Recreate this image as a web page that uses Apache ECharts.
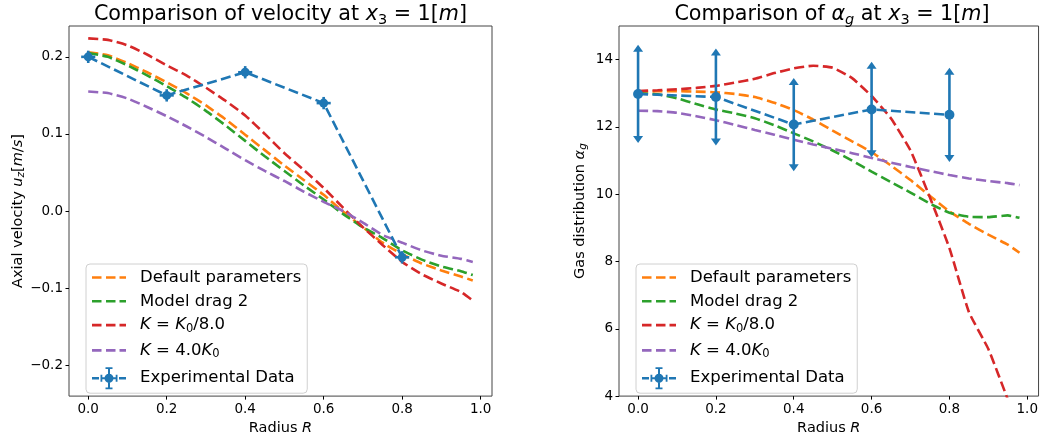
<!DOCTYPE html>
<html><head><meta charset="utf-8">
<script src="https://cdn.jsdelivr.net/npm/echarts@6/dist/echarts.min.js"></script>
<style>html,body{margin:0;padding:0;background:#fff}#c{width:1041px;height:441px}</style>
</head><body><div id="c"></div>
<script>
// ---------- data ----------
const R = [0,0.05,0.1,0.15,0.2,0.25,0.3,0.35,0.4,0.45,0.5,0.55,0.6,0.65,0.7,0.75,0.8,0.85,0.9,0.95,0.98];

const velDefault = [0.206,0.202,0.192,0.180,0.167,0.153,0.137,0.119,0.099,0.079,0.059,0.040,0.021,-0.001,-0.021,-0.041,-0.056,-0.068,-0.077,-0.085,-0.090];
const velDrag2   = [0.205,0.200,0.189,0.176,0.162,0.147,0.130,0.111,0.091,0.071,0.052,0.033,0.015,-0.004,-0.021,-0.035,-0.051,-0.063,-0.072,-0.078,-0.083];
const velKdiv8   = [0.224,0.222,0.215,0.203,0.189,0.176,0.160,0.143,0.124,0.100,0.075,0.053,0.030,0.004,-0.021,-0.044,-0.066,-0.082,-0.094,-0.105,-0.116];
const velKx4     = [0.155,0.153,0.146,0.135,0.123,0.110,0.096,0.081,0.066,0.052,0.039,0.025,0.012,0.000,-0.015,-0.031,-0.041,-0.051,-0.058,-0.062,-0.066];

const alphaDefault = [13.05,13.06,13.06,13.05,13.03,12.98,12.89,12.72,12.50,12.22,11.89,11.57,11.25,10.85,10.42,9.95,9.49,9.12,8.80,8.50,8.26];
const alphaDrag2   = [13.00,12.97,12.85,12.68,12.52,12.40,12.26,12.05,11.81,11.57,11.30,11.00,10.67,10.36,10.05,9.72,9.45,9.33,9.32,9.37,9.30];
const alphaKdiv8   = [13.07,13.09,13.12,13.16,13.22,13.32,13.43,13.60,13.74,13.82,13.76,13.45,12.92,12.25,11.30,9.90,8.40,6.50,5.40,3.90,3.00];
const alphaKx4     = [12.48,12.47,12.42,12.32,12.20,12.06,11.91,11.77,11.62,11.48,11.35,11.22,11.08,10.94,10.81,10.69,10.57,10.47,10.39,10.33,10.27];

const expR        = [0,0.2,0.4,0.6,0.8];
const expVel      = [0.200,0.150,0.180,0.140,-0.060];
const expVelErrY  = [0.008,0.008,0.008,0.008,0.008];
const expVelErrX  = [0.018,0.018,0.018,0.018,0.018];
const expAlpha    = [12.98,12.89,12.07,12.52,12.36];
const expAlphaErr = [1.46,1.44,1.385,1.42,1.40];

const xTicks     = [0,0.2,0.4,0.6,0.8,1.0];
const velTicks   = [-0.2,-0.1,0,0.1,0.2];
const alphaTicks = [4,6,8,10,12,14];

const names = ['Default parameters','Model drag 2','K=K0/8.0','K=4.0K0','Experimental Data'];
const colors = {blue:'#1f77b4', orange:'#ff7f0e', green:'#2ca02c', red:'#d62728', purple:'#9467bd'};

// ---------- helpers ----------
const FF = 'DejaVu Sans';
function richSet(size, sub){
  const lh = Math.round(size*1.2);
  const slh = Math.round(sub*0.8);
  return {
    n:{fontFamily:FF,fontSize:size,color:'#000',lineHeight:lh},
    i:{fontFamily:FF,fontSize:size,fontStyle:'italic',color:'#000',lineHeight:lh},
    s:{fontFamily:FF,fontSize:sub,color:'#000',verticalAlign:'bottom',lineHeight:slh},
    si:{fontFamily:FF,fontSize:sub,fontStyle:'italic',color:'#000',verticalAlign:'bottom',lineHeight:slh}
  };
}
const pairs = (xs, ys) => xs.map((x,i)=>[x, ys[i]]);
const rect = (x,y,w,h) => `M${x} ${y}h${w}v${h}h${-w}Z`;
const dashIcon = 'path://' + rect(0,0,9.5,2.6) + rect(14,0,9.5,2.6) + rect(27.5,0,6.5,2.6);
const expIcon = 'path://' + rect(0,9.7,7,2.6) + rect(27,9.7,7,2.6) + rect(8.5,10,17,2) +
  rect(8.5,7.5,1.8,7) + rect(23.7,7.5,1.8,7) + rect(16,0,2,22) + rect(13.5,0,7,1.8) + rect(13.5,20.2,7,1.8) +
  'M12.5 11a4.5 4.5 0 1 1 9 0a4.5 4.5 0 1 1 -9 0Z';

const legendLabels = {
  'Default parameters':'{n|Default parameters}',
  'Model drag 2':'{n|Model drag 2}',
  'K=K0/8.0':'{i|K}{n| = }{i|K}{s|0}{n|/8.0}',
  'K=4.0K0':'{i|K}{n| = 4.0}{i|K}{s|0}',
  'Experimental Data':'{n|Experimental Data}'
};
function makeLegend(left){
  return {
    orient:'vertical', left:left, top:264,
    itemWidth:34, itemHeight:22, itemGap:6.8,
    padding:[5,6,4,6],
    backgroundColor:'rgba(255,255,255,0.8)', borderColor:'#d0d0d0', borderWidth:1, borderRadius:4,
    symbolKeepAspect:true,
    selectedMode:false,
    data:names.map(n=>({name:n, icon: n==='Experimental Data'? expIcon : dashIcon})),
    formatter:n=>legendLabels[n],
    textStyle:{fontFamily:FF,fontSize:16.5,color:'#000',padding:[0,0,0,9],rich:richSet(16.5,11.5)}
  };
}
const lineStyleDash = c => ({color:c, width:2.6, type:[10,4.4]});
function modelSeries(name, color, ys, gi){
  return {name, type:'line', xAxisIndex:gi, yAxisIndex:gi, data:pairs(R,ys),
    showSymbol:false, symbol:'none', smooth:0.15, lineStyle:lineStyleDash(color), itemStyle:{color}, z:3, animation:false};
}
const fmt1 = v => (Math.abs(v)<1e-9 ? '0.0' : v.toFixed(1)).replace('-','\u2212');

const xAxisBase = gi => ({
  type:'value', gridIndex:gi, min:-0.049, max:1.029,
  name:'{n|Radius }{i|R}', nameLocation:'middle', nameGap:20,
  nameTextStyle:{rich:richSet(14.5,10.5)},
  axisLine:{show:false, onZero:false}, splitLine:{show:false},
  axisTick:{show:true, length:3.5, lineStyle:{color:'#000',width:1}, customValues:xTicks},
  axisLabel:{customValues:xTicks, formatter:fmt1, fontFamily:FF, fontSize:13.5, color:'#000', margin:6}
});

const option = {
  animation:false,
  backgroundColor:'#fff',
  grid:[
    {left:69, top:26, width:423, height:374, show:true, borderColor:'#444', borderWidth:1, backgroundColor:'transparent'},
    {left:619, top:26, width:426, height:374, show:true, borderColor:'#444', borderWidth:1, backgroundColor:'transparent'}
  ],
  xAxis:[xAxisBase(0), xAxisBase(1)],
  yAxis:[
    {type:'value', gridIndex:0, min:-0.24, max:0.24,
     name:'{n|Axial velocity }{i|u}{si|z}{n|[}{i|m}{n|/}{i|s}{n|]}', nameLocation:'middle', nameGap:42, nameRotate:90,
     nameTextStyle:{rich:richSet(14.5,10.5)},
     axisLine:{show:false, onZero:false}, splitLine:{show:false},
     axisTick:{show:true,length:3.5,lineStyle:{color:'#000',width:1},customValues:velTicks},
     axisLabel:{customValues:velTicks, formatter:fmt1, fontFamily:FF, fontSize:13.5, color:'#000', margin:6}},
    {type:'value', gridIndex:1, min:4, max:15,
     name:'{n|Gas distribution }{i|\u03b1}{si|g}', nameLocation:'middle', nameGap:30, nameRotate:90,
     nameTextStyle:{rich:richSet(14.5,10.5)},
     axisLine:{show:false, onZero:false}, splitLine:{show:false},
     axisTick:{show:true,length:3.5,lineStyle:{color:'#000',width:1},customValues:alphaTicks},
     axisLabel:{customValues:alphaTicks, formatter:v=>String(Math.round(v)), fontFamily:FF, fontSize:13.5, color:'#000', margin:6}}
  ],
  legend:[makeLegend(86), makeLegend(636)],
  graphic:[
    {type:'text', x:280.5, y:15, style:{text:'{n|Comparison of velocity at }{i|x}{s|3}{n| = 1[}{i|m}{n|]}',
      rich:richSet(20.7,14.5), align:'center', verticalAlign:'middle'}},
    {type:'text', x:832, y:15, style:{text:'{n|Comparison of }{i|\u03b1}{si|g}{n| at }{i|x}{s|3}{n| = 1[}{i|m}{n|]}',
      rich:richSet(20.7,14.5), align:'center', verticalAlign:'middle'}}
  ],
  series:[
    modelSeries('Default parameters', colors.orange, velDefault, 0),
    modelSeries('Model drag 2', colors.green, velDrag2, 0),
    modelSeries('K=K0/8.0', colors.red, velKdiv8, 0),
    modelSeries('K=4.0K0', colors.purple, velKx4, 0),
    modelSeries('Default parameters', colors.orange, alphaDefault, 1),
    modelSeries('Model drag 2', colors.green, alphaDrag2, 1),
    modelSeries('K=K0/8.0', colors.red, alphaKdiv8, 1),
    modelSeries('K=4.0K0', colors.purple, alphaKx4, 1),
    {name:'Experimental Data', type:'line', xAxisIndex:0, yAxisIndex:0, data:pairs(expR,expVel),
     symbol:'circle', symbolSize:9, showSymbol:true, lineStyle:lineStyleDash(colors.blue), itemStyle:{color:colors.blue}, z:5},
    {name:'Experimental Data', type:'line', xAxisIndex:1, yAxisIndex:1, data:pairs(expR,expAlpha),
     symbol:'circle', symbolSize:10, showSymbol:true, lineStyle:lineStyleDash(colors.blue), itemStyle:{color:colors.blue}, z:5},
    {name:'Experimental Data', type:'custom', xAxisIndex:0, yAxisIndex:0, z:4,
     data:expR.map((x,i)=>[x, expVel[i], expVelErrY[i], expVelErrX[i]]),
     renderItem:(p,api)=>{
       const x=api.value(0), y=api.value(1), ey=api.value(2), ex=api.value(3);
       const t=api.coord([x,y+ey]), b=api.coord([x,y-ey]), l=api.coord([x-ex,y]), r=api.coord([x+ex,y]);
       return {type:'group', children:[
         {type:'line', shape:{x1:t[0],y1:t[1],x2:b[0],y2:b[1]}, style:{stroke:colors.blue,lineWidth:2.6}},
         {type:'line', shape:{x1:l[0],y1:l[1],x2:r[0],y2:r[1]}, style:{stroke:colors.blue,lineWidth:2.6}}
       ]};
     }},
    {name:'Experimental Data', type:'custom', xAxisIndex:1, yAxisIndex:1, z:4,
     data:expR.map((x,i)=>[x, expAlpha[i], expAlphaErr[i]]),
     renderItem:(p,api)=>{
       const x=api.value(0), y=api.value(1), e=api.value(2);
       const t=api.coord([x,y+e]), b=api.coord([x,y-e]);
       const w=5, h=7;
       return {type:'group', children:[
         {type:'line', shape:{x1:t[0],y1:t[1]+3,x2:b[0],y2:b[1]-3}, style:{stroke:colors.blue,lineWidth:2.6}},
         {type:'polygon', shape:{points:[[t[0],t[1]],[t[0]-w,t[1]+h],[t[0]+w,t[1]+h]]}, style:{fill:colors.blue}},
         {type:'polygon', shape:{points:[[b[0],b[1]],[b[0]-w,b[1]-h],[b[0]+w,b[1]-h]]}, style:{fill:colors.blue}}
       ]};
     }}
  ]
};
const chart = echarts.init(document.getElementById('c'), null, {renderer:'canvas'});
chart.setOption(option);
</script>
</body></html>
